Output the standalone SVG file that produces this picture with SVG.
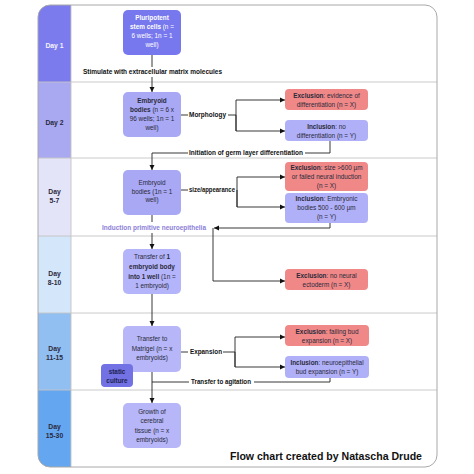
<svg xmlns="http://www.w3.org/2000/svg" width="474" height="474" viewBox="0 0 474 474">
<style>
.nt{font-family:"Liberation Sans",Arial,sans-serif;font-size:6.4px;fill:#2a2a3a;text-anchor:middle}
.wt{fill:#ffffff}
.b{font-weight:bold}
.lb{font-family:"Liberation Sans",Arial,sans-serif;font-size:6.6px;font-weight:bold;fill:#111}
.day{font-family:"Liberation Sans",Arial,sans-serif;font-size:6.8px;font-weight:bold;fill:#2a2a40;text-anchor:middle}
.ln{fill:none;stroke:#222;stroke-width:0.9}
.sep{stroke:#c4c4c4;stroke-width:0.9}
.pn{fill:#b0b0f8}
.ex{fill:#f08888}
</style>
<defs>
<marker id="ah" markerWidth="6" markerHeight="6" refX="5" refY="3" orient="auto" markerUnits="userSpaceOnUse">
<path d="M0,0.5 L5,3 L0,5.5 Z" fill="#111"/>
</marker>
<clipPath id="frame"><rect x="38" y="5" width="399" height="462" rx="12"/></clipPath>
</defs>
<rect width="474" height="474" fill="#ffffff"/>
<g id="lanes" clip-path="url(#frame)">
<rect x="38" y="5" width="33" height="77" fill="#7b7bee"/>
<rect x="38" y="82" width="33" height="76" fill="#a9a9f2"/>
<rect x="38" y="158" width="33" height="78" fill="#e4e4f8"/>
<rect x="38" y="236" width="33" height="77" fill="#d4e6fa"/>
<rect x="38" y="313" width="33" height="77" fill="#92bff2"/>
<rect x="38" y="390" width="33" height="77" fill="#64a6f0"/>
<line class="sep" x1="38" y1="82" x2="437" y2="82"/>
<line class="sep" x1="38" y1="158" x2="437" y2="158"/>
<line class="sep" x1="38" y1="236" x2="437" y2="236"/>
<line class="sep" x1="38" y1="313" x2="437" y2="313"/>
<line class="sep" x1="38" y1="390" x2="437" y2="390"/>
<line class="sep" x1="71" y1="5" x2="71" y2="467"/>
</g>
<rect x="38" y="5" width="399" height="462" rx="12" fill="none" stroke="#a8a8a8" stroke-width="1"/>
<g id="daylabels">
<text class="day" x="54.5" y="47.5" fill="#ffffff" style="fill:#f4f4ff">Day 1</text>
<text class="day" x="54.5" y="124.5">Day 2</text>
<text class="day" x="54.5" y="194">Day</text><text class="day" x="54.5" y="202.5">5-7</text>
<text class="day" x="54.5" y="276">Day</text><text class="day" x="54.5" y="284.5">8-10</text>
<text class="day" x="54.5" y="351">Day</text><text class="day" x="54.5" y="360">11-15</text>
<text class="day" x="54.5" y="429">Day</text><text class="day" x="54.5" y="438">15-30</text>
</g>
<g id="connectors">
<path class="ln" d="M152,55 V67"/>
<path class="ln" d="M152,77 V92" marker-end="url(#ah)"/>
<path class="ln" d="M181,115 H188"/>
<path class="ln" d="M228,115 H236"/>
<path class="ln" d="M236,131 V100 H285" marker-end="url(#ah)"/>
<path class="ln" d="M236,115 V131 H285" marker-end="url(#ah)"/>
<path class="ln" d="M330,141 V153 H305"/>
<path class="ln" d="M188,153 H152 V170" marker-end="url(#ah)"/>
<path class="ln" d="M181,190 H188"/>
<path class="ln" d="M237,207 V177 H285" marker-end="url(#ah)"/>
<path class="ln" d="M237,190 V207 H285" marker-end="url(#ah)"/>
<path class="ln" d="M152,215 V222"/>
<path class="ln" d="M152,233 V249" marker-end="url(#ah)"/>
<path class="ln" d="M330,223 V228 H214" marker-end="url(#ah)"/>
<path class="ln" d="M213,228 V281 H285" marker-end="url(#ah)"/>
<path class="ln" d="M152,294 V326" marker-end="url(#ah)"/>
<path class="ln" d="M181,352 H188"/>
<path class="ln" d="M223,352 H235"/>
<path class="ln" d="M235,367 V337 H285" marker-end="url(#ah)"/>
<path class="ln" d="M235,352 V367 H285" marker-end="url(#ah)"/>
<path class="ln" d="M330,378 V382 H254"/>
<path class="ln" d="M189,382 H152"/>
<path class="ln" d="M152,372 V403" marker-end="url(#ah)"/>
</g>
<g id="connector-labels">
<text class="lb" x="83" y="74.3" textLength="139" lengthAdjust="spacingAndGlyphs">Stimulate with extracellular  matrix molecules</text>
<text class="lb" x="189" y="117.3" textLength="37" lengthAdjust="spacingAndGlyphs">Morphology</text>
<text class="lb" x="189" y="155.3" textLength="114" lengthAdjust="spacingAndGlyphs">Initiation of germ layer differentiation</text>
<text class="lb" x="189" y="192.3" textLength="46" lengthAdjust="spacingAndGlyphs">size/appearance</text>
<text class="lb" x="102" y="230.3" textLength="104" lengthAdjust="spacingAndGlyphs" style="fill:#8c80d8">Induction primitive neuroepithelia</text>
<text class="lb" x="190" y="354.3" textLength="32" lengthAdjust="spacingAndGlyphs">Expansion</text>
<text class="lb" x="191" y="384.3" textLength="60" lengthAdjust="spacingAndGlyphs">Transfer to agitation</text>
</g>
<g id="n-pluripotent">
<rect x="123" y="10" width="58" height="45" rx="5" fill="#7878ee"/>
<text class="nt wt" x="152" y="20.2"><tspan class="b">Pluripotent</tspan></text>
<text class="nt wt" x="152" y="29.2"><tspan class="b">stem cells</tspan> (n =</text>
<text class="nt wt" x="152" y="38.2">6 wells; 1n = 1</text>
<text class="nt wt" x="152" y="46.7">well)</text>
</g>
<g id="n-embryoid2">
<rect x="123" y="92" width="58" height="45" rx="5" fill="#a8a8f5"/>
<text class="nt" x="152" y="103.2"><tspan class="b">Embryoid</tspan></text>
<text class="nt" x="152" y="112.2"><tspan class="b">bodies</tspan> (n = 6 x</text>
<text class="nt" x="152" y="121.2">96 wells; 1n = 1</text>
<text class="nt" x="152" y="130.2">well)</text>
</g>
<g id="n-excl2">
<rect x="285" y="89" width="83" height="21" rx="4" class="ex"/>
<text class="nt" x="326.5" y="98.2"><tspan class="b">Exclusion</tspan>: evidence of</text>
<text class="nt" x="326.5" y="106.5">differentiation  (n = X)</text>
</g>
<g id="n-incl2">
<rect x="285" y="120" width="83" height="21" rx="4" class="pn"/>
<text class="nt" x="326.5" y="129.2"><tspan class="b">Inclusion</tspan>: no</text>
<text class="nt" x="326.5" y="137.5">differentiation   (n = Y)</text>
</g>
<g id="n-embryoid3">
<rect x="123" y="170" width="58" height="45" rx="5" fill="#a8a8f5"/>
<text class="nt" x="152" y="185.2">Embryoid</text>
<text class="nt" x="152" y="193.7">bodies  (1n = 1</text>
<text class="nt" x="152" y="202.2">well)</text>
</g>
<g id="n-excl3">
<rect x="285" y="162" width="83" height="29" rx="4" class="ex"/>
<text class="nt" x="326.5" y="170.2"><tspan class="b">Exclusion</tspan>:  size &gt;600 µm</text>
<text class="nt" x="326.5" y="179.2">or failed  neural  induction</text>
<text class="nt" x="326.5" y="188.2">(n = X)</text>
</g>
<g id="n-incl3">
<rect x="285" y="193" width="83" height="30" rx="4" class="pn"/>
<text class="nt" x="326.5" y="200.7"><tspan class="b">Inclusion</tspan>: Embryonic</text>
<text class="nt" x="326.5" y="210.2">bodies  500 - 600 µm</text>
<text class="nt" x="326.5" y="219.2">(n = Y)</text>
</g>
<g id="n-transfer1">
<rect x="123" y="249" width="58" height="45" rx="5" fill="#b4b4fa"/>
<text class="nt" x="152" y="259.2">Transfer  of <tspan class="b">1</tspan></text>
<text class="nt" x="152" y="269.2"><tspan class="b">embryoid body</tspan></text>
<text class="nt" x="152" y="279.2"><tspan class="b">into 1 well</tspan> (1n =</text>
<text class="nt" x="152" y="287.7">1 embryoid)</text>
</g>
<g id="n-excl4">
<rect x="285" y="269" width="83" height="21" rx="4" class="ex"/>
<text class="nt" x="326.5" y="278.2"><tspan class="b">Exclusion</tspan>:  no neural</text>
<text class="nt" x="326.5" y="286.5">ectoderm  (n = X)</text>
</g>
<g id="n-matrigel">
<rect x="123" y="326" width="58" height="46" rx="5" fill="#b6b6f8"/>
<text class="nt" x="152" y="341.2">Transfer  to</text>
<text class="nt" x="152" y="350.5">Matrigel  (n = x</text>
<text class="nt" x="152" y="360.2">embryoids)</text>
</g>
<g id="n-static">
<rect x="101" y="364" width="32" height="23" rx="4" fill="#7272e4"/>
<text class="nt b" x="117" y="373.5" style="fill:#1e1e50">static</text>
<text class="nt b" x="117" y="383" style="fill:#1e1e50">culture</text>
</g>
<g id="n-excl5">
<rect x="285" y="325" width="84" height="21" rx="4" class="ex"/>
<text class="nt" x="327" y="334.2"><tspan class="b">Exclusion</tspan>: failing bud</text>
<text class="nt" x="327" y="343.2">expansion  (n = X)</text>
</g>
<g id="n-incl5">
<rect x="285" y="356" width="84" height="22" rx="4" class="pn"/>
<text class="nt" x="327" y="364.5"><tspan class="b">Inclusion</tspan>: neuroepithelial</text>
<text class="nt" x="327" y="374">bud expansion  (n = Y)</text>
</g>
<g id="n-growth">
<rect x="123" y="403" width="58" height="45" rx="5" fill="#b6b6f8"/>
<text class="nt" x="152" y="414.2">Growth of</text>
<text class="nt" x="152" y="423.2">cerebral</text>
<text class="nt" x="152" y="433.2">tissue  (n = x</text>
<text class="nt" x="152" y="442.2">embryoids)</text>
</g>
<text x="230" y="460" font-family="'Liberation Sans',Arial,sans-serif" font-size="11" font-weight="bold" fill="#111" textLength="192" lengthAdjust="spacingAndGlyphs">Flow chart created by Natascha Drude</text>
</svg>
